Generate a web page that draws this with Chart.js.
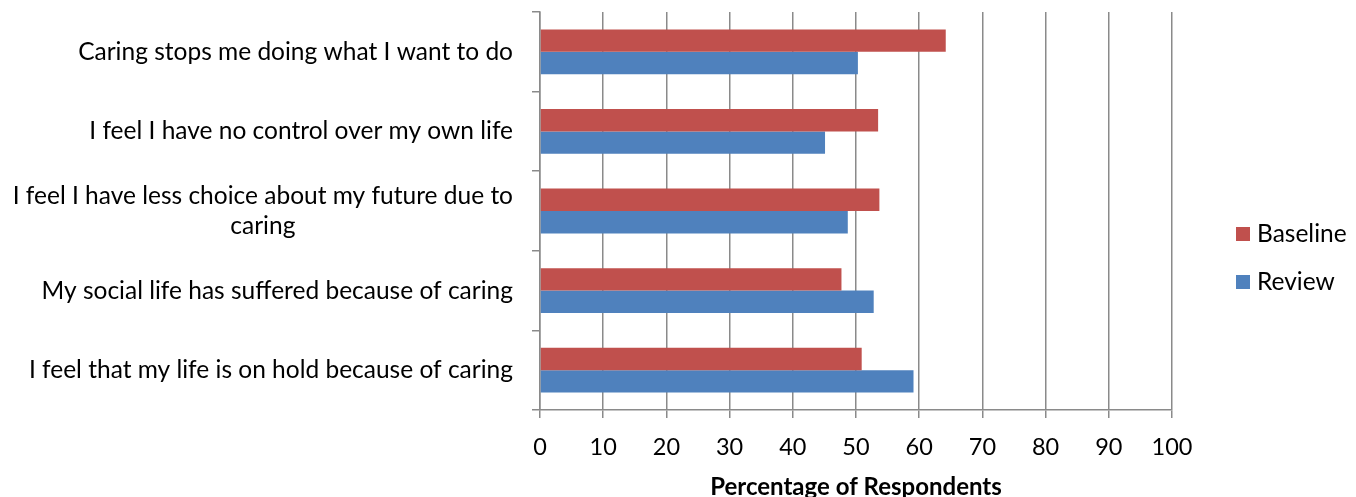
<!DOCTYPE html>
<html>
<head>
<meta charset="utf-8">
<script src="https://cdn.jsdelivr.net/npm/chart.js@4"></script>
<style>
    html, body { margin: 0; padding: 0; background: #fff; }
    #wrap { width: 1356px; height: 497px; position: relative; }
</style>
</head>
<body>
<div id="wrap"><canvas id="carerChart"></canvas></div>
<script>
const categories = [
    'Caring stops me doing what I want to do',
    'I feel I have no control over my own life',
    ['I feel I have less choice about my future due to', 'caring'],
    'My social life has suffered because of caring',
    'I feel that my life is on hold because of caring'
];
const baselineValues = [64.2, 53.5, 53.7, 47.7, 50.9];
const reviewValues = [50.3, 45.1, 48.7, 52.8, 59.1];
const xTicks = [0, 10, 20, 30, 40, 50, 60, 70, 80, 90, 100];

const FONT = 'Lato, "Open Sans", sans-serif';
const GRID = '#8a8a8a';

// category labels: block right-aligned, lines centred inside the block
const categoryLabels = {
    id: 'categoryLabels',
    afterDraw(chart) {
        const ctx = chart.ctx;
        const yScale = chart.scales.y;
        ctx.save();
        ctx.font = '24.5px ' + FONT;
        ctx.fillStyle = '#000';
        ctx.textBaseline = 'middle';
        ctx.textAlign = 'center';
        chart.data.labels.forEach((label, i) => {
            const lines = Array.isArray(label) ? label : [label];
            const blockWidth = Math.max(...lines.map(l => ctx.measureText(l).width));
            const cx = 513 - blockWidth / 2;
            const cy = yScale.getPixelForValue(i);
            lines.forEach((line, j) => {
                ctx.fillText(line, cx, cy + (j - (lines.length - 1) / 2) * 30);
            });
        });
        ctx.restore();
    }
};

const sideLegend = {
    id: 'sideLegend',
    afterDraw(chart) {
        const ctx = chart.ctx;
        ctx.save();
        ctx.font = '24.5px ' + FONT;
        ctx.textBaseline = 'middle';
        ctx.textAlign = 'left';
        chart.data.datasets.forEach((ds, i) => {
            const cy = 234 + i * 48;
            ctx.fillStyle = ds.backgroundColor;
            ctx.fillRect(1236, cy - 7, 14, 14);
            ctx.fillStyle = '#000';
            ctx.fillText(ds.label, 1257, cy);
        });
        ctx.restore();
    }
};

const ctx = document.getElementById('carerChart').getContext('2d');
new Chart(ctx, {
    type: 'bar',
    data: {
        labels: categories,
        datasets: [
            { label: 'Baseline', data: baselineValues, backgroundColor: '#C0504D' },
            { label: 'Review', data: reviewValues, backgroundColor: '#4F81BD' }
        ]
    },
    options: {
        indexAxis: 'y',
        responsive: true,
        maintainAspectRatio: false,
        animation: false,
        categoryPercentage: 0.5625,
        barPercentage: 1,
        layout: { padding: { top: 12, right: 184, left: 0, bottom: 0 } },
        plugins: {
            legend: { display: false },
            tooltip: { enabled: false }
        },
        scales: {
            x: {
                min: 0,
                max: 100,
                afterBuildTicks: scale => { scale.ticks = xTicks.map(v => ({ value: v })); },
                afterFit: scale => { scale.height = 87; },
                grid: { color: GRID, lineWidth: 1.5, tickLength: 8 },
                border: { color: GRID, width: 1.5 },
                ticks: { color: '#000', padding: 15, font: { family: FONT, size: 23.5 } },
                title: {
                    display: true,
                    text: 'Percentage of Respondents',
                    color: '#000',
                    padding: { top: 0, bottom: 0 },
                    font: { family: FONT, size: 24, weight: 'bold', lineHeight: 0.85 }
                }
            },
            y: {
                afterFit: scale => { scale.width = 540; },
                grid: { offset: true, drawOnChartArea: false, color: GRID, lineWidth: 1.5, tickLength: 8 },
                border: { color: GRID, width: 1.5 },
                ticks: { display: false }
            }
        }
    },
    plugins: [categoryLabels, sideLegend]
});
</script>
</body>
</html>
